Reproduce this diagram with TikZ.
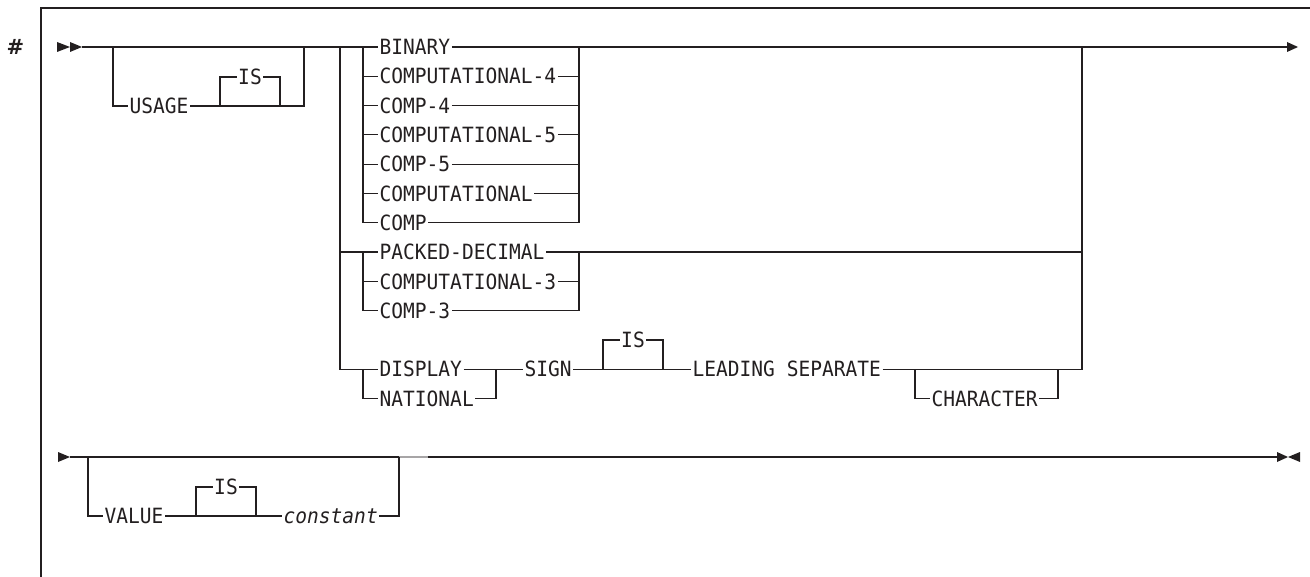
\documentclass[tikz,border=0pt]{standalone}
\usepackage{fontspec}
\newfontfamily\rrfont[FakeStretch=0.93]{DejaVu Sans Mono}
\newfontfamily\hashfont{DejaVu Sans}
\definecolor{ink}{HTML}{231F20}
\tikzset{
  rr/.style={line width=1.2pt, draw=ink},
  faint/.style={line width=1.4pt, draw=ink!40},
  kw/.style={font=\rrfont\fontsize{21}{25}\selectfont, text=ink, inner xsep=1.5pt, inner ysep=0pt,
             text height=15.3pt, text depth=0pt, anchor=west},
  tipfill/.style={fill=ink, draw=none},
}
\begin{document}
\begin{tikzpicture}[x=1pt, y=-1pt]
\useasboundingbox (0,0) rectangle (1310,577);
% frame
\draw[line width=1.3pt, ink] (41,577) -- (41,8) -- (1310,8);
\node[font=\hashfont\bfseries\fontsize{21}{24}\selectfont, text=ink] (hash) at (15.5,47) {\#};

% ---------- row 1 texts ----------
\node[kw] (usage) at (128,106) {USAGE};
\node[kw, anchor=center] (is1) at (250,77) {IS};
\node[kw] (binary) at (378,47) {BINARY};
\node[kw] (comp4l) at (378,76.3) {COMPUTATIONAL-4};
\node[kw] (comp4) at (378,105.6) {COMP-4};
\node[kw] (comp5l) at (378,134.9) {COMPUTATIONAL-5};
\node[kw] (comp5) at (378,164.2) {COMP-5};
\node[kw] (compl) at (378,193.5) {COMPUTATIONAL};
\node[kw] (comp) at (378,222.8) {COMP};
\node[kw] (packed) at (378,252.1) {PACKED-DECIMAL};
\node[kw] (comp3l) at (378,281.4) {COMPUTATIONAL-3};
\node[kw] (comp3) at (378,310.7) {COMP-3};
\node[kw] (display) at (378,369.3) {DISPLAY};
\node[kw] (national) at (378,398.6) {NATIONAL};
\node[kw] (sign) at (523,369.3) {SIGN};
\node[kw, anchor=center] (is2) at (633,340) {IS};
\node[kw] (leading) at (691,369.3) {LEADING SEPARATE};
\node[kw] (character) at (930,398.6) {CHARACTER};

% ---------- row 1 junctions ----------
\coordinate (s1) at (82,47);
\coordinate (e1) at (1287,47);
\coordinate (uL) at (113,47);
\coordinate (uR) at (304,47);
\coordinate (isAL) at (220,106);
\coordinate (isAR) at (280,106);
\coordinate (sp) at (340,47);
\coordinate (gL) at (363,47);
\coordinate (gR) at (579,47);
\coordinate (bR) at (1082,47);
\coordinate (dR) at (496,369.3);
\coordinate (i2L) at (603,369.3);
\coordinate (i2R) at (663,369.3);
\coordinate (cL) at (915,369.3);
\coordinate (cR) at (1058,369.3);

% start / end arrows
\fill[tipfill] (57,42) -- (70,47) -- (57,52) -- cycle;
\fill[tipfill] (70,42) -- (82,47) -- (70,52) -- cycle;
\fill[tipfill] (1287,42) -- (1298,47) -- (1287,52) -- cycle;

% main line
\draw[rr] (s1) -- (binary.west);
\draw[rr] (binary.east) -- (e1);

% optional USAGE [IS]
\draw[rr] (uL) |- (usage.west);
\draw[rr] (usage.east) -- (isAL) -- (isAR) -| (uR);
\draw[rr] (isAL) |- (is1.west);
\draw[rr] (is1.east) -| (isAR);

% spine
\draw[rr] (sp) |- (display.west);
\draw[rr] (sp |- packed.west) -- (packed.west);

% binary group
\draw[rr] (gL) |- (comp.west);
\foreach \n in {comp4l,comp4,comp5l,comp5,compl}
  \draw[rr] (gL |- \n.west) -- (\n.west);
\draw[rr] (gR) |- (comp.east);
\foreach \n in {comp4l,comp4,comp5l,comp5,compl}
  \draw[rr] (\n.east) -- (gR |- \n.east);

% packed group
\draw[rr] (gL |- packed.west) |- (comp3.west);
\draw[rr] (gL |- comp3l.west) -- (comp3l.west);
\draw[rr] (packed.east) -- (bR |- packed.east);
\draw[rr] (gR |- packed.east) |- (comp3.east);
\draw[rr] (comp3l.east) -- (gR |- comp3l.east);

% display group
\draw[rr] (gL |- display.west) |- (national.west);
\draw[rr] (display.east) -- (sign.west);
\draw[rr] (national.east) -| (dR);
\draw[rr] (sign.east) -- (leading.west);
\draw[rr] (i2L) |- (is2.west);
\draw[rr] (is2.east) -| (i2R);
\draw[rr] (leading.east) -- (bR |- leading.east) -- (bR);
\draw[rr] (cL) |- (character.west);
\draw[rr] (character.east) -| (cR);

% ---------- row 2 ----------
\node[kw] (value) at (103,516) {VALUE};
\node[kw, anchor=center] (is3) at (226,487) {IS};
\node[kw] (constant) at (282,516) {\itshape constant};

\coordinate (s2) at (70,457);
\coordinate (e2) at (1277,457);
\coordinate (vL) at (88,457);
\coordinate (vR) at (399,457);
\coordinate (gz) at (428,457);
\coordinate (i3L) at (196,516);
\coordinate (i3R) at (256,516);

\fill[tipfill] (58,452) -- (70,457) -- (58,462) -- cycle;
\fill[tipfill] (1277,452) -- (1288,457) -- (1277,462) -- cycle;
\fill[tipfill] (1300,452) -- (1288,457) -- (1300,462) -- cycle;

\draw[rr] (s2) -- (vR);
\draw[faint] (vR) -- (gz);
\draw[rr] (gz) -- (e2);
\draw[rr] (vL) |- (value.west);
\draw[rr] (value.east) -- (constant.west);
\draw[rr] (i3L) |- (is3.west);
\draw[rr] (is3.east) -| (i3R);
\draw[rr] (constant.east) -| (vR);
\end{tikzpicture}
\end{document}
